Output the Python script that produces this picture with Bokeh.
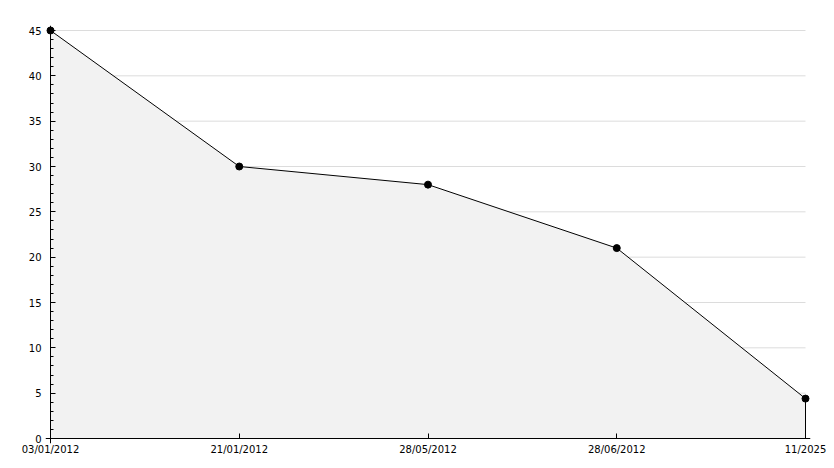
from bokeh.plotting import figure
from bokeh.models import FixedTicker, Range1d, LinearAxis
from bokeh.embed import file_html
from bokeh.resources import INLINE

dates = ["03/01/2012", "21/01/2012", "28/05/2012", "28/06/2012", "11/2025"]
values = [45, 30, 28, 21, 4.4]
y_ticks = [0, 5, 10, 15, 20, 25, 30, 35, 40, 45]
y_minor = [i for i in range(0, 46)]

xs = list(range(len(dates)))
x_max = len(dates) - 1
y_max = 45

# small padding so that the end markers are not clipped by the frame
pad_px = 5
plot_w = 755
plot_h = 408
x_pad = pad_px * x_max / plot_w
y_pad = pad_px * y_max / plot_h

p = figure(width=834, height=468, output_backend="svg", toolbar_location=None,
           x_range=Range1d(-x_pad, x_max + x_pad), y_range=Range1d(-y_pad, y_max + y_pad),
           min_border_left=45, min_border_right=24, min_border_top=25, min_border_bottom=25)
p.outline_line_color = None
p.background_fill_color = "white"
p.xgrid.grid_line_color = None
p.ygrid.grid_line_color = None

# grid lines at the major y ticks, spanning the data extent
p.segment(x0=[0] * len(y_ticks), y0=y_ticks, x1=[x_max] * len(y_ticks), y1=y_ticks,
          line_color="#dcdcdc", line_width=1)

p.varea(x=xs, y1=[0] * len(xs), y2=values, fill_color="#f2f2f2")

# axis lines at data zero
p.segment(x0=[0, 0], y0=[0, 0], x1=[x_max, 0], y1=[0, y_max], line_color="black", line_width=1)

p.line(xs, values, line_color="black", line_width=1)
p.segment(x0=[xs[-1]], y0=[values[-1]], x1=[xs[-1]], y1=[0], line_color="black", line_width=1)
p.scatter(xs, values, size=7, marker="circle", fill_color="black", line_color="black")

font = "DejaVu Sans"

# label-only axes on the frame edges
p.xaxis.ticker = FixedTicker(ticks=xs)
p.xaxis.major_label_overrides = {i: d for i, d in enumerate(dates)}
p.xaxis.axis_line_color = None
p.xaxis.major_tick_line_color = None
p.xaxis.minor_tick_line_color = None
p.xaxis.major_tick_out = 0
p.xaxis.major_tick_in = 0
p.xaxis.major_label_standoff = 0
p.xaxis.major_label_text_font = font
p.xaxis.major_label_text_font_size = "10px"
p.xaxis.major_label_text_color = "black"

p.yaxis.ticker = FixedTicker(ticks=y_ticks)
p.yaxis.axis_line_color = None
p.yaxis.major_tick_line_color = None
p.yaxis.minor_tick_line_color = None
p.yaxis.major_tick_out = 0
p.yaxis.major_tick_in = 0
p.yaxis.major_label_standoff = 4
p.yaxis.major_label_text_font = font
p.yaxis.major_label_text_font_size = "10px"
p.yaxis.major_label_text_color = "black"

# tick-only axes placed at data zero
xt = LinearAxis(fixed_location=0, ticker=FixedTicker(ticks=xs),
                major_tick_in=5, major_tick_out=0, minor_tick_line_color=None,
                axis_line_color="black", major_label_text_color=None,
                major_label_text_font_size="1px")
yt = LinearAxis(fixed_location=0, ticker=FixedTicker(ticks=y_ticks, minor_ticks=y_minor),
                major_tick_in=5, major_tick_out=0, minor_tick_in=3, minor_tick_out=0,
                minor_tick_line_color="black",
                axis_line_color="black", major_label_text_color=None,
                major_label_text_font_size="1px")
p.add_layout(xt, "below")
p.add_layout(yt, "left")

open("out.html", "w").write(file_html(p, INLINE))
